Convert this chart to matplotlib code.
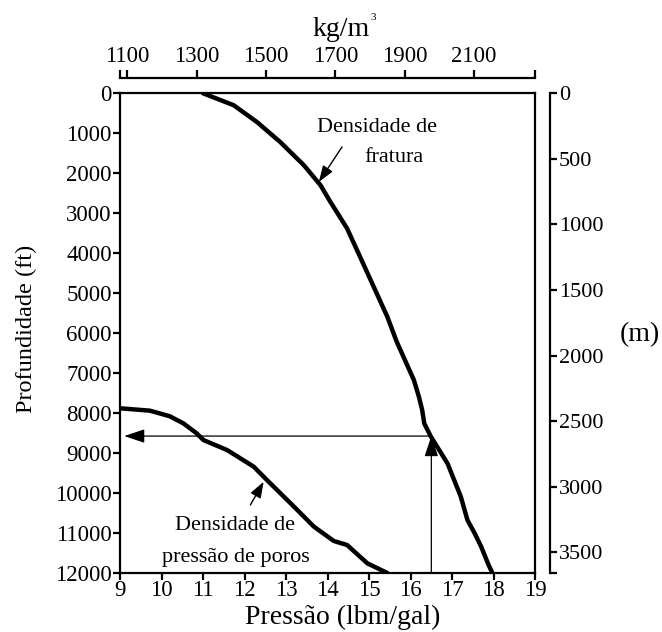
import numpy as np
import matplotlib
matplotlib.use('Agg')
import matplotlib.pyplot as plt

# fracture density curve (lbm/gal vs depth ft)
frat_x = [11.0, 11.74, 12.3, 12.86, 13.43, 13.83, 14.07, 14.47, 14.84, 15.44, 15.66,
          16.08, 16.2, 16.28, 16.33, 16.49, 16.89, 17.21, 17.37, 17.54, 17.70, 17.88, 17.97]
frat_y = [0, 300, 720, 1220, 1800, 2300, 2720, 3380, 4220, 5590, 6200,
          7175, 7590, 7925, 8260, 8590, 9260, 10090, 10675, 11000, 11340, 11800, 12000]

# pore pressure density curve
poro_x = [9.0, 9.72, 10.2, 10.53, 10.85, 11.01, 11.58, 12.22, 12.54, 13.19, 13.67,
          14.15, 14.47, 14.96, 15.44]
poro_y = [7880, 7940, 8080, 8260, 8510, 8675, 8925, 9340, 9675, 10340, 10840,
          11200, 11300, 11760, 12000]

x_ticks = list(range(9, 20))
y_ticks = list(range(0, 12001, 1000))
kg_ticks = [1100, 1300, 1500, 1700, 1900, 2100]
m_ticks = [0, 500, 1000, 1500, 2000, 2500, 3000, 3500]

KG = 119.826   # kg/m3 per lbm/gal
FT = 0.3048    # m per ft
x_sel, y_sel = 16.5, 8575

plt.rcParams['font.family'] = 'Liberation Serif'
plt.rcParams['axes.linewidth'] = 1.6

fig = plt.figure(figsize=(6.62, 6.32), dpi=100)
ax = fig.add_axes([0.1813, 0.0934, 0.627, 0.759])

ax.plot(frat_x, frat_y, color='black', lw=3.2, solid_capstyle='round')
ax.plot(poro_x, poro_y, color='black', lw=3.2, solid_capstyle='round')

ax.set_xlim(9, 19)
ax.set_ylim(12000, 0)
ax.set_xticks(x_ticks)
ax.set_yticks(y_ticks)
ax.tick_params(direction='out', length=5, width=1.6, labelsize=16.5, pad=1)
ax.tick_params(axis='x', pad=0)
ax.set_xlabel('Pressão (lbm/gal)', fontsize=20)
ax.set_ylabel('Profundidade (ft)', fontsize=17.5)
ax.xaxis.set_label_coords(0.537, -0.066)
ax.yaxis.set_label_coords(-0.2, 0.508)

# reading lines with arrows
arr = dict(arrowstyle='-|>,head_length=0.9,head_width=0.3', color='black', lw=0.9,
           shrinkA=0, shrinkB=0, mutation_scale=14)
ax.annotate('', xy=(9.1, y_sel), xytext=(x_sel, y_sel), arrowprops=arr)
ax.annotate('', xy=(x_sel, y_sel), xytext=(x_sel, 12000), arrowprops=arr)

pointer = dict(arrowstyle='-|>,head_length=0.7,head_width=0.25', color='black', lw=1.0,
               shrinkA=0, shrinkB=0, mutation_scale=14)
ax.annotate('', xy=(13.79, 2217), xytext=(14.35, 1342), arrowprops=pointer)
ax.annotate('', xy=(12.46, 9717), xytext=(12.14, 10300), arrowprops=pointer)

ax.text(15.2, 850, 'Densidade de', ha='center', va='center', fontsize=16)
ax.text(15.6, 1600, 'fratura', ha='center', va='center', fontsize=16)
ax.text(11.78, 10800, 'Densidade de', ha='center', va='center', fontsize=16)
ax.text(11.78, 11625, 'pressão de poros', ha='center', va='center', fontsize=16)

# top axis: kg/m3
axt = ax.twiny()
axt.set_xlim(9 * KG, 19 * KG)
axt.set_xticks(kg_ticks)
axt.set_xticks([9 * KG, 19 * KG], minor=True)
for s in ['left', 'right', 'bottom']:
    axt.spines[s].set_visible(False)
axt.spines['top'].set_position(('outward', 11))
axt.tick_params(which='both', direction='out', length=6, width=1.6, labelsize=16.5, pad=2)
fig.text(0.472, 0.953, 'kg/m', ha='left', va='center', fontsize=20)
fig.text(0.560, 0.972, '3', ha='left', va='center', fontsize=8)

# right axis: m
axr = ax.twinx()
axr.set_ylim(12000 * FT, 0)
axr.set_yticks(m_ticks)
axr.set_yticks([12000 * FT], minor=True)
for s in ['left', 'top', 'bottom']:
    axr.spines[s].set_visible(False)
axr.spines['right'].set_position(('outward', 11))
axr.tick_params(which='both', direction='out', length=5, width=1.6, labelsize=16, pad=1)
fig.text(0.936, 0.47, '(m)', ha='left', va='center', fontsize=20)

fig.savefig('out.png', dpi=100)
